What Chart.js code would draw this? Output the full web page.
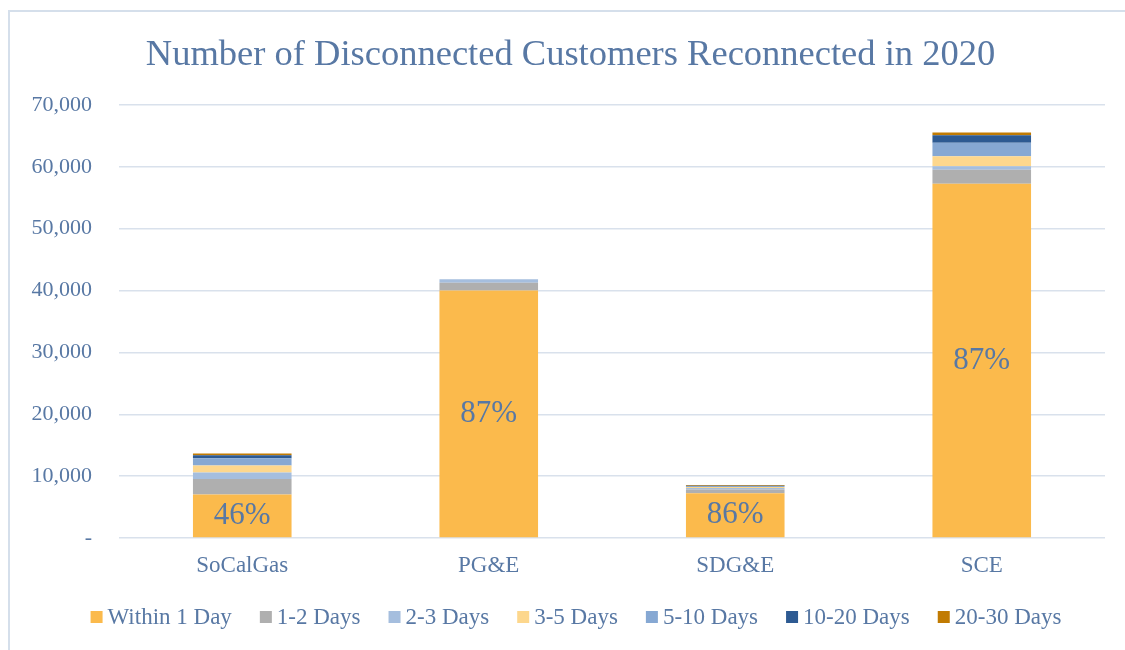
<!DOCTYPE html>
<html>
<head>
<meta charset="utf-8">
<script src="https://cdn.jsdelivr.net/npm/chart.js@4"></script>
<style>
html,body{margin:0;padding:0;background:#fff;}
#wrap{width:1125px;height:650px;position:relative;}
</style>
</head>
<body>
<div id="wrap"><canvas id="c" width="1125" height="650"></canvas></div>
<script>
const categories = ['SoCalGas', 'PG&E', 'SDG&E', 'SCE'];
const seriesNames = ['Within 1 Day', '1-2 Days', '2-3 Days', '3-5 Days', '5-10 Days', '10-20 Days', '20-30 Days'];
const within1Day = [7030, 40000, 7250, 57260];
const days1to2   = [2510, 1250, 600, 2260];
const days2to3   = [1050, 590, 250, 580];
const days3to5   = [1130, 0, 150, 1620];
const days5to10  = [1180, 0, 150, 2170];
const days10to20 = [490, 0, 50, 1230];
const days20to30 = [270, 0, 100, 430];
const pctLabels  = ['46%', '87%', '86%', '87%'];
const titleText  = 'Number of Disconnected Customers Reconnected in 2020';
const colors = ['#FBBA4C', '#AFAFAF', '#A5BEDE', '#FDD78D', '#86A8D3', '#2D5A92', '#C17B02'];

const seriesValues = [within1Day, days1to2, days2to3, days3to5, days5to10, days10to20, days20to30];
const TEXT = '#5878A4';
const FONT = "'Liberation Serif', 'DejaVu Serif', serif";

const frameTitlePlugin = {
  id: 'frameTitle',
  beforeDraw(chart) {
    const ctx = chart.ctx;
    ctx.save();
    ctx.strokeStyle = '#D5DFEB';
    ctx.lineWidth = 2;
    ctx.beginPath();
    ctx.moveTo(9, 650);
    ctx.lineTo(9, 11);
    ctx.lineTo(1125, 11);
    ctx.stroke();
    ctx.fillStyle = TEXT;
    ctx.font = "36.5px " + FONT;
    ctx.textAlign = 'center';
    ctx.textBaseline = 'middle';
    ctx.fillText(titleText, 570.5, 55);
    ctx.restore();
  }
};

const pctPlugin = {
  id: 'pct',
  afterDatasetsDraw(chart) {
    const meta = chart.getDatasetMeta(0);
    const ctx = chart.ctx;
    ctx.save();
    ctx.fillStyle = TEXT;
    ctx.font = "31px " + FONT;
    ctx.textAlign = 'center';
    ctx.textBaseline = 'middle';
    meta.data.forEach((el, i) => {
      const y = (el.y + el.base) / 2;
      ctx.fillText(pctLabels[i], el.x, y);
    });
    ctx.restore();
  }
};

// Legend drawn from the chart's datasets, Excel-style spacing
const legendPlugin = {
  id: 'xlLegend',
  afterDraw(chart) {
    const ctx = chart.ctx;
    const ds = chart.data.datasets;
    const box = 12, gapBoxText = 5, gapItem = 28;
    ctx.save();
    ctx.font = "23px " + FONT;
    ctx.textBaseline = 'middle';
    ctx.textAlign = 'left';
    const widths = ds.map(d => box + gapBoxText + ctx.measureText(d.label).width);
    const total = widths.reduce((a, b) => a + b, 0) + gapItem * (ds.length - 1);
    let x = 576 - total / 2;
    const y = 617;
    ds.forEach((d, i) => {
      ctx.fillStyle = d.backgroundColor;
      ctx.fillRect(x, y - box / 2, box, box);
      ctx.fillStyle = TEXT;
      ctx.fillText(d.label, x + box + gapBoxText, y + 1);
      x += widths[i] + gapItem;
    });
    ctx.restore();
  }
};

new Chart(document.getElementById('c'), {
  type: 'bar',
  data: {
    labels: categories,
    datasets: seriesNames.map((name, i) => ({
      label: name,
      data: seriesValues[i],
      backgroundColor: colors[i],
      borderWidth: 0,
      categoryPercentage: 1,
      barPercentage: 0.4
    }))
  },
  options: {
    responsive: false,
    animation: false,
    layout: { padding: { left: 0, right: 20, top: 105, bottom: 62 } },
    plugins: {
      title: { display: false },
      legend: { display: false },
      tooltip: { enabled: false }
    },
    scales: {
      x: {
        stacked: true,
        afterFit(scale) { scale.height = 50; },
        grid: { display: false, drawTicks: false },
        border: { display: false },
        ticks: { color: TEXT, font: { family: FONT, size: 23 }, padding: 14 }
      },
      y: {
        stacked: true,
        min: 0,
        max: 70000,
        afterFit(scale) { scale.width = 119; },
        grid: { color: '#D9E1EC', lineWidth: 1.5, drawTicks: false },
        border: { display: false },
        ticks: {
          stepSize: 10000,
          color: TEXT,
          padding: 27,
          font: { family: FONT, size: 22 },
          callback: v => v === 0 ? '-' : v.toLocaleString('en-US')
        }
      }
    }
  },
  plugins: [frameTitlePlugin, pctPlugin, legendPlugin]
});
</script>
</body>
</html>
